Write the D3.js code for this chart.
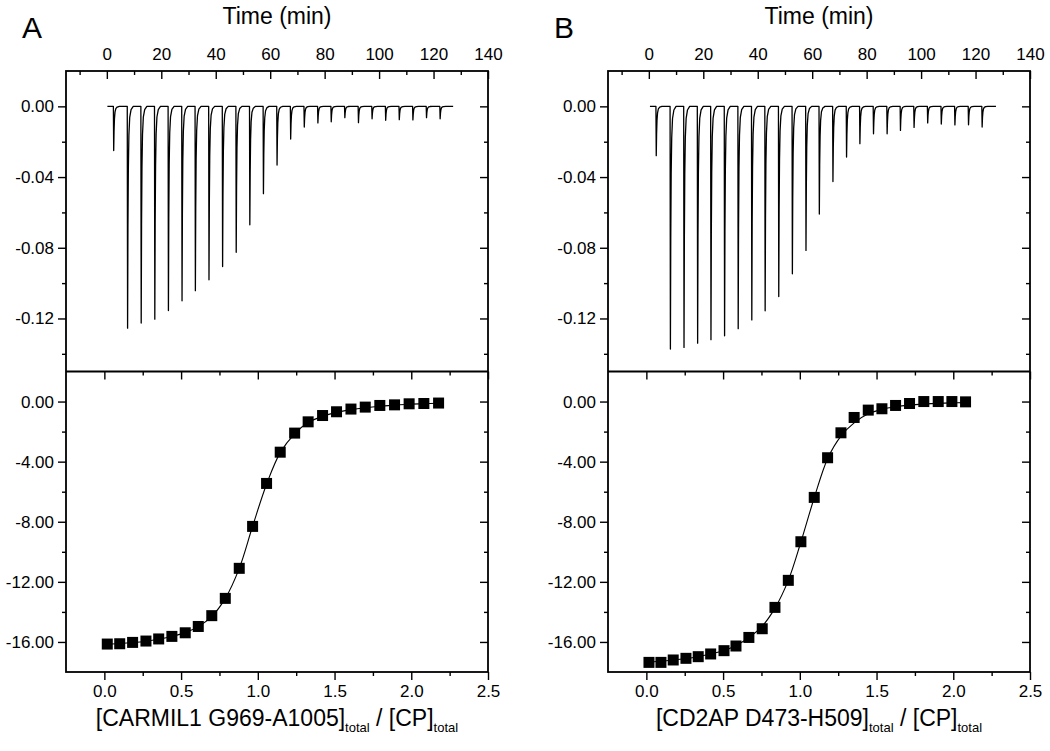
<!DOCTYPE html>
<html><head><meta charset="utf-8">
<script src="https://cdn.jsdelivr.net/npm/d3@7"></script>
<style>
body{margin:0;background:#fff}
svg{display:block}
text{font-family:"Liberation Sans",Arial,sans-serif;fill:#000}
</style>
</head><body><svg id="c" width="1050" height="751"></svg>
<script>
// ---------------- DATA ----------------
const panelLetters = ["A", "B"];
const timeTicks = [0, 20, 40, 60, 80, 100, 120, 140];
const timeMinor = [-10, 10, 30, 50, 70, 90, 110, 130];
const heatTicks = [0, -0.04, -0.08, -0.12];
const heatMinor = [-0.02, -0.06, -0.10, -0.14];
const enthTicks = [0, -4, -8, -12, -16];
const enthMinor = [-2, -6, -10, -14];
const ratioTicks = [0, 0.5, 1.0, 1.5, 2.0, 2.5];
const ratioMinor = [0.25, 0.75, 1.25, 1.75, 2.25];
const xLabelMain = ["[CARMIL1 G969-A1005]", "[CD2AP D473-H509]"];

// thermogram (top panels): injection times (min) and peak depths (µcal/s)
const traceSpanA = [0.2, 127.2];
const injTimeA = [2.4, 7.5, 12.5, 17.5, 22.5, 27.5, 32.4, 37.4, 42.4, 47.4, 52.4, 57.4, 62.4, 67.4, 72.4, 77.4, 82.3, 87.3, 92.3, 97.3, 102.3, 107.3, 112.3, 117.3, 122.3];
const peakA = [-0.025, -0.1255, -0.1226, -0.1204, -0.1155, -0.110, -0.1043, -0.0981, -0.0906, -0.0826, -0.067, -0.0494, -0.0332, -0.0185, -0.0117, -0.0094, -0.0087, -0.0064, -0.0092, -0.007, -0.0079, -0.0075, -0.0077, -0.0064, -0.007];
const traceSpanB = [0.4, 127.5];
const injTimeB = [2.6, 7.8, 12.8, 17.8, 22.7, 27.7, 32.7, 37.7, 42.6, 47.6, 52.6, 57.6, 62.5, 67.5, 72.5, 77.4, 82.4, 87.4, 92.3, 97.3, 102.3, 107.3, 112.3, 117.3, 122.3];
const peakB = [-0.0279, -0.1373, -0.1364, -0.134, -0.132, -0.1298, -0.1258, -0.1208, -0.1157, -0.1076, -0.0947, -0.0815, -0.0609, -0.0425, -0.0287, -0.0211, -0.0155, -0.0155, -0.0136, -0.0119, -0.0094, -0.010, -0.0105, -0.0104, -0.0117];

// binding isotherms (bottom panels): molar ratio, kcal/mol of injectant
const ratioA = [0.019, 0.10, 0.184, 0.271, 0.354, 0.44, 0.527, 0.612, 0.70, 0.788, 0.879, 0.966, 1.057, 1.146, 1.24, 1.328, 1.422, 1.513, 1.607, 1.70, 1.795, 1.891, 1.986, 2.082, 2.178];
const heatA = [-16.14, -16.12, -16.03, -15.94, -15.8, -15.63, -15.39, -14.97, -14.25, -13.1, -11.1, -8.31, -5.45, -3.37, -2.1, -1.35, -0.93, -0.68, -0.5, -0.37, -0.26, -0.22, -0.15, -0.13, -0.10];
const fitA = [-16.14, -16.1, -16.04, -15.95, -15.82, -15.64, -15.38, -14.98, -14.3, -13.1, -11.1, -8.3, -5.5, -3.4, -2.15, -1.4, -0.98, -0.72, -0.54, -0.41, -0.31, -0.24, -0.18, -0.14, -0.11];
const ratioB = [0.017, 0.095, 0.175, 0.258, 0.338, 0.419, 0.506, 0.584, 0.668, 0.755, 0.838, 0.925, 1.007, 1.094, 1.181, 1.268, 1.354, 1.446, 1.535, 1.624, 1.715, 1.808, 1.902, 1.991, 2.08];
const heatB = [-17.36, -17.36, -17.2, -17.09, -16.98, -16.8, -16.58, -16.27, -15.7, -15.12, -13.7, -11.9, -9.33, -6.38, -3.74, -2.08, -1.06, -0.57, -0.48, -0.26, -0.13, 0.0, 0.0, 0.0, -0.02];
const fitB = [-17.33, -17.28, -17.2, -17.1, -16.98, -16.8, -16.57, -16.23, -15.72, -14.95, -13.75, -11.9, -9.35, -6.4, -3.8, -2.3, -1.42, -0.82, -0.52, -0.35, -0.24, -0.17, -0.12, -0.09, -0.07];

// ---------------- LAYOUT ----------------
const svg = d3.select("#c");
const yTop = 71, yMid = 371.5, yBot = 672;
const MAJ = 8, MIN = 4;
const TFS = 17;
const panels = [
  {x0: 66, x1: 488, letter: panelLetters[0], label: xLabelMain[0], span: traceSpanA, inj: injTimeA, peak: peakA, ratio: ratioA, heat: heatA, fit: fitA, letterX: 22},
  {x0: 608, x1: 1030, letter: panelLetters[1], label: xLabelMain[1], span: traceSpanB, inj: injTimeB, peak: peakB, ratio: ratioB, heat: heatB, fit: fitB, letterX: 554}
];
// relative shape of one injection peak: [minutes after injection, fraction of depth]
const peakShape = [[0, 0], [0.12, 1], [0.25, 0.55], [0.4, 0.28], [0.6, 0.13], [0.9, 0.05], [1.4, 0.015], [2.2, 0]];

function styleAxis(g) {
  g.select(".domain").remove();
  g.selectAll("line").attr("stroke", "#000").attr("stroke-width", 1.4);
  g.selectAll("text").attr("font-size", TFS).attr("fill", "#000")
    .attr("font-family", '"Liberation Sans",Arial,sans-serif');
}

panels.forEach(p => {
  const xT = d3.scaleLinear().domain([-15, 140]).range([p.x0, p.x1]);
  const yT = d3.scaleLinear().domain([-0.15, 0.02]).range([yMid, yTop]);
  const xR = d3.scaleLinear().domain([-0.25, 2.5]).range([p.x0, p.x1]);
  const yR = d3.scaleLinear().domain([-18, 2]).range([yBot, yMid]);
  const g = svg.append("g");

  // ---- top panel axes ----
  g.append("g").attr("transform", `translate(0,${yTop})`)
    .call(d3.axisTop(xT).tickValues(timeTicks).tickSize(-MAJ).tickPadding(11).tickFormat(d3.format("d")))
    .call(styleAxis);
  g.append("g").attr("transform", `translate(0,${yTop})`)
    .call(d3.axisTop(xT).tickValues(timeMinor).tickSize(-MIN).tickFormat(""))
    .call(styleAxis);
  g.append("g").attr("transform", `translate(${p.x0},0)`)
    .call(d3.axisLeft(yT).tickValues(heatTicks).tickSize(MAJ).tickPadding(4).tickFormat(d => d.toFixed(2)))
    .call(styleAxis);
  g.append("g").attr("transform", `translate(${p.x0},0)`)
    .call(d3.axisLeft(yT).tickValues(heatMinor).tickSize(MIN).tickFormat(""))
    .call(styleAxis);
  g.append("g").attr("transform", `translate(${p.x1},0)`)
    .call(d3.axisRight(yT).tickValues(heatTicks).tickSize(-MAJ).tickFormat(""))
    .call(styleAxis);
  g.append("g").attr("transform", `translate(${p.x1},0)`)
    .call(d3.axisRight(yT).tickValues(heatMinor).tickSize(-MIN).tickFormat(""))
    .call(styleAxis);

  // ---- bottom panel axes ----
  g.append("g").attr("transform", `translate(0,${yMid})`)
    .call(d3.axisTop(xR).tickValues(ratioTicks).tickSize(-MAJ).tickFormat(""))
    .call(styleAxis);
  g.append("g").attr("transform", `translate(0,${yMid})`)
    .call(d3.axisTop(xR).tickValues(ratioMinor).tickSize(-MIN).tickFormat(""))
    .call(styleAxis);
  g.append("g").attr("transform", `translate(0,${yBot})`)
    .call(d3.axisBottom(xR).tickValues(ratioTicks).tickSize(MAJ).tickPadding(5).tickFormat(d => d.toFixed(1)))
    .call(styleAxis);
  g.append("g").attr("transform", `translate(0,${yBot})`)
    .call(d3.axisBottom(xR).tickValues(ratioMinor).tickSize(MIN).tickFormat(""))
    .call(styleAxis);
  g.append("g").attr("transform", `translate(${p.x0},0)`)
    .call(d3.axisLeft(yR).tickValues(enthTicks).tickSize(MAJ).tickPadding(4).tickFormat(d => d.toFixed(2)))
    .call(styleAxis);
  g.append("g").attr("transform", `translate(${p.x0},0)`)
    .call(d3.axisLeft(yR).tickValues(enthMinor).tickSize(MIN).tickFormat(""))
    .call(styleAxis);
  g.append("g").attr("transform", `translate(${p.x1},0)`)
    .call(d3.axisRight(yR).tickValues(enthTicks).tickSize(-MAJ).tickFormat(""))
    .call(styleAxis);
  g.append("g").attr("transform", `translate(${p.x1},0)`)
    .call(d3.axisRight(yR).tickValues(enthMinor).tickSize(-MIN).tickFormat(""))
    .call(styleAxis);

  // ---- thermogram trace ----
  const pts = [[p.span[0], 0]];
  p.inj.forEach((t, i) => {
    peakShape.forEach(([dt, f]) => pts.push([t + dt, p.peak[i] * f]));
  });
  pts.push([p.span[1], 0]);
  g.append("path")
    .attr("d", d3.line().x(d => xT(d[0])).y(d => yT(d[1]))(pts))
    .attr("fill", "none").attr("stroke", "#000").attr("stroke-width", 1.3)
    .attr("stroke-linejoin", "round");

  // ---- isotherm fit + points ----
  const fitPts = p.ratio.map((r, i) => [r, p.fit[i]]);
  g.append("path")
    .attr("d", d3.line().curve(d3.curveCatmullRom.alpha(0.5)).x(d => xR(d[0])).y(d => yR(d[1]))(fitPts))
    .attr("fill", "none").attr("stroke", "#000").attr("stroke-width", 1.1);
  const S = 11;
  g.selectAll("rect.pt").data(p.ratio.map((r, i) => [r, p.heat[i]])).join("rect")
    .attr("class", "pt")
    .attr("x", d => xR(d[0]) - S / 2).attr("y", d => yR(d[1]) - S / 2)
    .attr("width", S).attr("height", S).attr("fill", "#000");

  // ---- frames ----
  g.append("rect").attr("x", p.x0).attr("y", yTop).attr("width", p.x1 - p.x0).attr("height", yBot - yTop)
    .attr("fill", "none").attr("stroke", "#000").attr("stroke-width", 1.8);
  g.append("line").attr("x1", p.x0).attr("x2", p.x1).attr("y1", yMid).attr("y2", yMid)
    .attr("stroke", "#000").attr("stroke-width", 1.8);

  // ---- titles ----
  const cx = (p.x0 + p.x1) / 2;
  g.append("text").attr("x", cx).attr("y", 24).attr("text-anchor", "middle")
    .attr("font-size", 23).text("Time (min)");
  g.append("text").attr("x", p.letterX).attr("y", 38).attr("font-size", 30).text(p.letter);
  const lab = g.append("text").attr("x", cx).attr("y", 726).attr("text-anchor", "middle").attr("font-size", 23);
  lab.append("tspan").text(p.label);
  lab.append("tspan").attr("font-size", 13).attr("dy", 6).text("total");
  lab.append("tspan").attr("dy", -6).text(" / [CP]");
  lab.append("tspan").attr("font-size", 13).attr("dy", 6).text("total");
});
</script>
</body></html>
